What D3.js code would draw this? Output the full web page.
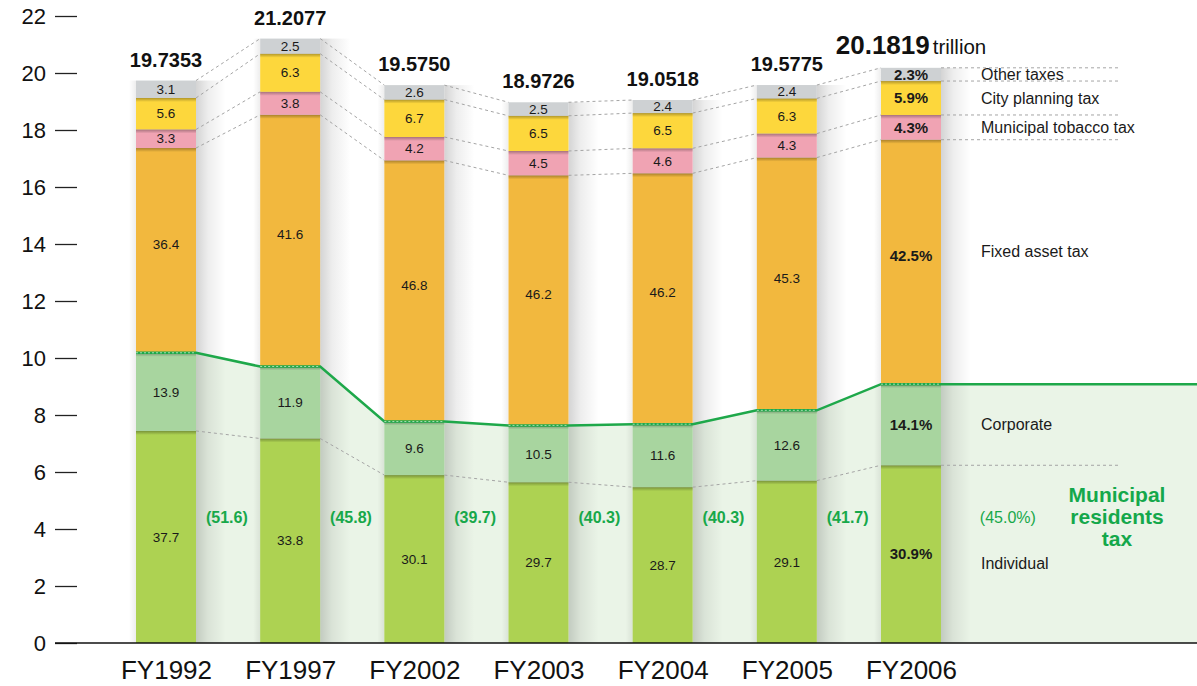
<!DOCTYPE html>
<html>
<head>
<meta charset="utf-8">
<script src="https://cdn.jsdelivr.net/npm/d3@7"></script>
<style>
  body { margin: 0; background: #fff; }
  svg { display: block; font-family: "Liberation Sans", Arial, Helvetica, sans-serif; }
</style>
</head>
<body>
<svg class="tax-chart" width="1197" height="686"></svg>
<script>
// municipal tax revenue, trillion yen, and share of each tax (%)
const years = ['FY1992', 'FY1997', 'FY2002', 'FY2003', 'FY2004', 'FY2005', 'FY2006']
const totals = [19.7353, 21.2077, 19.5750, 18.9726, 19.0518, 19.5775, 20.1819]

const individual   = [37.7, 33.8, 30.1, 29.7, 28.7, 29.1, 30.9]
const corporate    = [13.9, 11.9,  9.6, 10.5, 11.6, 12.6, 14.1]
const fixedAsset   = [36.4, 41.6, 46.8, 46.2, 46.2, 45.3, 42.5]
const tobacco      = [ 3.3,  3.8,  4.2,  4.5,  4.6,  4.3,  4.3]
const cityPlanning = [ 5.6,  6.3,  6.7,  6.5,  6.5,  6.3,  5.9]
const otherTaxes   = [ 3.1,  2.5,  2.6,  2.5,  2.4,  2.4,  2.3]

const residentsShare = [51.6, 45.8, 39.7, 40.3, 40.3, 41.7, 45.0]

const layerKeys = ['individual', 'corporate', 'fixed', 'tobacco', 'city', 'other']
const layerNames = ['Individual', 'Corporate', 'Fixed asset tax', 'Municipal tobacco tax', 'City planning tax', 'Other taxes']
const yTicks = d3.range(0, 23, 2)

const colors = {
    individual: '#add252',
    corporate: '#a8d59f',
    fixed: '#f2b83e',
    tobacco: '#f0a3b3',
    city: '#fdd73c',
    other: '#ced1d3'
}

// shares -> trillion yen, scaled so the stack fills the total
const shares = [individual, corporate, fixedAsset, tobacco, cityPlanning, otherTaxes]
const rows = years.map((yr, i) => {
    const sum = d3.sum(shares, s => s[i])
    const row = { year: yr, total: totals[i] }
    layerKeys.forEach((k, j) => {
        row[k] = totals[i] * shares[j][i] / sum
        row[k + 'Pct'] = shares[j][i]
    })
    return row
})

const stacked = d3.stack().keys(layerKeys)(rows)

const draw = () => {

    const svg = d3.select('.tax-chart')
    const W = 1197
    const barW = 60

    const y = d3.scaleLinear().domain([0, 22]).range([643, 16])
    const x = d3.scalePoint().domain(years).range([166, 911])
    const step = x.step()

    const left = d => x(d) - barW / 2
    const right = d => x(d) + barW / 2

    const defs = svg.append('defs')

    const gR = defs.append('linearGradient').attr('id', 'shadowR')
    gR.append('stop').attr('offset', '0%').attr('stop-color', '#000').attr('stop-opacity', 0.17)
    gR.append('stop').attr('offset', '40%').attr('stop-color', '#000').attr('stop-opacity', 0.07)
    gR.append('stop').attr('offset', '100%').attr('stop-color', '#000').attr('stop-opacity', 0)

    const gL = defs.append('linearGradient').attr('id', 'shadowL')
    gL.append('stop').attr('offset', '0%').attr('stop-color', '#000').attr('stop-opacity', 0)
    gL.append('stop').attr('offset', '100%').attr('stop-color', '#000').attr('stop-opacity', 0.07)

    const gT = defs.append('linearGradient').attr('id', 'shadowT')
        .attr('x1', 0).attr('y1', 0).attr('x2', 0).attr('y2', 1)
    gT.append('stop').attr('offset', '0%').attr('stop-color', '#000').attr('stop-opacity', 0.3)
    gT.append('stop').attr('offset', '100%').attr('stop-color', '#000').attr('stop-opacity', 0)

    // residents tax band (individual + corporate)
    const resTop = stacked[1].map(d => d[1])
    const linePts = []
    years.forEach((yr, i) => {
        linePts.push([left(yr), y(resTop[i])], [right(yr), y(resTop[i])])
    })
    linePts.push([W, y(resTop[resTop.length - 1])])

    const areaGen = d3.area().x(d => d[0]).y0(y(0)).y1(d => d[1])
    svg.append('path')
        .attr('d', areaGen(linePts))
        .attr('fill', '#eaf4e7')

    // bar shadows
    svg.selectAll('.shadow-r')
        .data(rows)
        .enter()
        .append('rect')
        .attr('x', d => right(d.year))
        .attr('y', d => y(d.total))
        .attr('width', 30)
        .attr('height', d => y(0) - y(d.total))
        .attr('fill', 'url(#shadowR)')

    svg.selectAll('.shadow-l')
        .data(rows)
        .enter()
        .append('rect')
        .attr('x', d => left(d.year) - 7)
        .attr('y', d => y(d.total))
        .attr('width', 7)
        .attr('height', d => y(0) - y(d.total))
        .attr('fill', 'url(#shadowL)')

    // stacked bars
    const layers = svg.selectAll('.layer')
        .data(stacked)
        .enter()
        .append('g')
        .attr('fill', d => colors[d.key])

    layers.selectAll('rect')
        .data(d => d)
        .enter()
        .append('rect')
        .attr('x', d => left(d.data.year))
        .attr('y', d => y(d[1]))
        .attr('width', barW)
        .attr('height', d => y(d[0]) - y(d[1]))

    // soft shadow under each segment boundary
    stacked.slice(0, 5).forEach(layer => {
        svg.selectAll(null)
            .data(layer)
            .enter()
            .append('rect')
            .attr('x', d => left(d.data.year))
            .attr('y', d => y(d[1]))
            .attr('width', barW)
            .attr('height', 4)
            .attr('fill', 'url(#shadowT)')
    })

    // dashed connectors between bars
    const boundaries = [0, 2, 3, 4, 5].map(k => stacked[k].map(d => d[1]))
    const connectors = svg.append('g')
        .attr('stroke', '#a5a5a5')
        .attr('stroke-width', 1)
        .attr('stroke-dasharray', '3,3')
        .attr('fill', 'none')

    boundaries.forEach(b => {
        years.forEach((yr, i) => {
            const x1 = right(yr)
            const x2 = i < years.length - 1 ? left(years[i + 1]) : 1120
            const y2 = i < years.length - 1 ? b[i + 1] : b[i]
            connectors.append('line')
                .attr('x1', x1).attr('y1', y(b[i]))
                .attr('x2', x2).attr('y2', y(y2))
        })
    })

    // green residents-tax line
    svg.append('path')
        .attr('d', d3.line()(linePts))
        .attr('fill', 'none')
        .attr('stroke', '#1ea84a')
        .attr('stroke-width', 2.5)

    years.forEach((yr, i) => {
        svg.append('line')
            .attr('x1', left(yr)).attr('x2', right(yr))
            .attr('y1', y(resTop[i])).attr('y2', y(resTop[i]))
            .attr('stroke', '#a6ddb0')
            .attr('stroke-width', 1)
            .attr('stroke-dasharray', '2,2')
    })

    // axes
    const yAxis = svg.append('g')
        .attr('transform', 'translate(77,0)')
        .call(d3.axisLeft(y).tickValues(yTicks).tickSize(22).tickPadding(9))
    yAxis.select('.domain').remove()
    yAxis.selectAll('line').attr('stroke', '#222').attr('stroke-width', 1.3)
    yAxis.selectAll('text')
        .attr('font-size', 22)
        .attr('fill', '#111')
        .attr('font-family', '"Liberation Sans", Arial, sans-serif')

    svg.append('line')
        .attr('x1', 55).attr('x2', W)
        .attr('y1', y(0)).attr('y2', y(0))
        .attr('stroke', '#111')
        .attr('stroke-width', 1.5)

    const xAxis = svg.append('g')
        .attr('transform', `translate(0,${y(0)})`)
        .call(d3.axisBottom(x).tickSize(0).tickPadding(18))
    xAxis.select('.domain').remove()
    xAxis.selectAll('text')
        .attr('font-size', 26)
        .attr('fill', '#111')
        .attr('font-family', '"Liberation Sans", Arial, sans-serif')

    // labels inside the segments
    const last = years.length - 1
    stacked.forEach(layer => {
        svg.selectAll(null)
            .data(layer)
            .enter()
            .append('text')
            .attr('x', d => x(d.data.year))
            .attr('y', d => (y(d[0]) + y(d[1])) / 2 - (layer.key === 'fixed' ? 6 : 0))
            .attr('dy', '0.35em')
            .attr('text-anchor', 'middle')
            .attr('font-size', (d, i) => i === last ? 15 : 13.5)
            .attr('font-weight', (d, i) => i === last ? 'bold' : 'normal')
            .attr('fill', '#1a1a1a')
            .text((d, i) => d.data[layer.key + 'Pct'].toFixed(1) + (i === last ? '%' : ''))
    })

    // totals on top
    rows.forEach((d, i) => {
        const t = svg.append('text')
            .attr('x', x(d.year))
            .attr('y', y(d.total) - 14)
            .attr('text-anchor', 'middle')
            .attr('fill', '#111')
        t.append('tspan')
            .attr('font-weight', 'bold')
            .attr('font-size', i === last ? 26 : 20)
            .text(d.total.toFixed(4))
        if (i === last) {
            t.append('tspan')
                .attr('font-size', 20.5)
                .attr('dx', 3)
                .text('trillion')
        }
    })

    // residents tax share between bars
    const parenY = y(4.4)
    svg.selectAll('.paren')
        .data(residentsShare)
        .enter()
        .append('text')
        .attr('x', (d, i) => x(years[i]) + (i === last ? step * 0.78 : step * 0.49))
        .attr('y', parenY)
        .attr('dy', '0.35em')
        .attr('text-anchor', 'middle')
        .attr('font-size', 16)
        .attr('font-weight', (d, i) => i === last ? 'normal' : 'bold')
        .attr('fill', '#17a84a')
        .text((d, i) => '(' + d.toFixed(1) + (i === last ? '%' : '') + ')')

    // category names on the right
    const lx = 981
    const labelShift = { fixed: -11, individual: 9 }
    stacked.forEach((layer, k) => {
        const d = layer[last]
        svg.append('text')
            .attr('x', lx)
            .attr('y', (y(d[0]) + y(d[1])) / 2 + (labelShift[layer.key] || 0))
            .attr('dy', '0.35em')
            .attr('font-size', 16)
            .attr('fill', '#1a1a1a')
            .text(layerNames[k])
    })

    const mrt = svg.append('text')
        .attr('text-anchor', 'middle')
        .attr('font-size', 21)
        .attr('font-weight', 'bold')
        .attr('fill', '#14a84b')
    ;['Municipal', 'residents', 'tax'].forEach((w, i) => {
        mrt.append('tspan')
            .attr('x', 1117)
            .attr('y', parenY - 16 + i * 22)
            .text(w)
    })
}

draw()
</script>
</body>
</html>
